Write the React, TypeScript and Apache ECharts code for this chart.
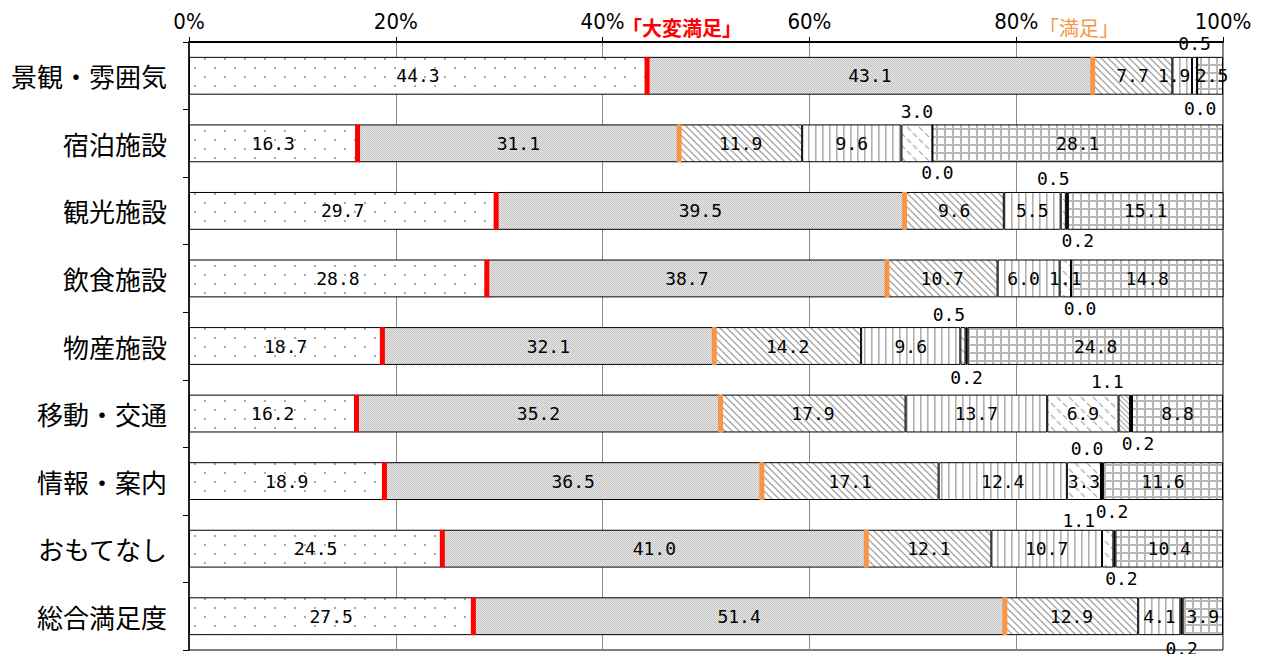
import React, { useEffect, useRef } from 'react';
import * as echarts from 'echarts';

const categories = ['景観・雰囲気', '宿泊施設', '観光施設', '飲食施設', '物産施設', '移動・交通', '情報・案内', 'おもてなし', '総合満足度'];
const seriesNames = ['大変満足', '満足', 'やや満足', 'ふつう', 'やや不満', '不満', '大変不満', '無回答'];

const s1 = [44.3, 16.3, 29.7, 28.8, 18.7, 16.2, 18.9, 24.5, 27.5];
const s2 = [43.1, 31.1, 39.5, 38.7, 32.1, 35.2, 36.5, 41.0, 51.4];
const s3 = [7.7, 11.9, 9.6, 10.7, 14.2, 17.9, 17.1, 12.1, 12.9];
const s4 = [1.9, 9.6, 5.5, 6.0, 9.6, 13.7, 12.4, 10.7, 4.1];
const s5 = [0.5, 3.0, 0.5, 1.1, 0.5, 6.9, 3.3, 1.1, null];
const s6 = [null, null, null, null, null, 1.1, 0.0, null, null];
const s7 = [0.0, 0.0, 0.2, 0.0, 0.2, 0.2, 0.2, 0.2, 0.2];
const s8 = [2.5, 28.1, 15.1, 14.8, 24.8, 8.8, 11.6, 10.4, 3.9];

const xTickStep = 20;

// label placement per cell (style config)
const allInside = categories.map(() => 'inside');
const s5Pos = ['top', 'top', 'top', 'inside', 'top', 'inside', 'inside', 'top', 'inside'];
const s6Pos = categories.map(() => 'top');
const s7Pos = categories.map(() => 'bottom');
// [row, series, dx, dy] label nudges (style config)
const labelNudges: [number, number, number, number][] = [
  [0, 3, -8, 0],
  [0, 7, 2, 0],
  [0, 6, 3, 0],
  [1, 6, 5, -3],
  [2, 4, -10, 0],
  [2, 6, 11, -2],
  [3, 3, -5, 0],
  [3, 6, 9, -2],
  [4, 4, -14, 0],
  [5, 5, -17, 0],
  [5, 6, 7, -2],
  [6, 5, -14, 0],
  [6, 6, 10, -2],
  [7, 4, -29, 4],
  [7, 6, 7, -2],
];

type Draw = (ctx: CanvasRenderingContext2D) => void;
function makePattern(w: number, h: number, draw: Draw, bg = '#ffffff') {
  const c = document.createElement('canvas');
  c.width = w;
  c.height = h;
  const ctx = c.getContext('2d') as CanvasRenderingContext2D;
  ctx.fillStyle = bg;
  ctx.fillRect(0, 0, w, h);
  draw(ctx);
  return { image: c.toDataURL(), repeat: 'repeat', imageWidth: w, imageHeight: h } as any;
}

function diag(ctx: CanvasRenderingContext2D, w: number, h: number, color: string, lw: number) {
  ctx.strokeStyle = color;
  ctx.lineWidth = lw;
  ctx.beginPath();
  ctx.moveTo(-1, -1); ctx.lineTo(w + 1, h + 1);
  ctx.moveTo(-1, h - 1); ctx.lineTo(1, h + 1);
  ctx.moveTo(w - 1, -1); ctx.lineTo(w + 1, 1);
  ctx.stroke();
}

export default function App() {
  const ref = useRef<HTMLDivElement>(null);
  useEffect(() => {
    if (!ref.current) return;
    const chart = echarts.init(ref.current, null, { renderer: 'svg' });

    const pDots = makePattern(20, 18, (ctx) => {
      ctx.fillStyle = '#a8a8a8';
      ctx.fillRect(4, 4, 2, 2);
      ctx.fillRect(14, 13, 2, 2);
    });
    const pGray = makePattern(4, 4, (ctx) => {
      ctx.fillStyle = '#c2c2c2';
      ctx.fillRect(0, 0, 1, 1); ctx.fillRect(2, 0, 1, 1);
      ctx.fillRect(1, 1, 1, 1); ctx.fillRect(3, 1, 1, 1);
      ctx.fillRect(0, 2, 1, 1); ctx.fillRect(2, 2, 1, 1);
      ctx.fillRect(1, 3, 1, 1); ctx.fillRect(3, 3, 1, 1);
    }, '#e8e8e8');
    const pHatch = makePattern(7, 7, (ctx) => diag(ctx, 7, 7, '#a4a4a4', 1.3));
    const pVert = makePattern(7, 4, (ctx) => {
      ctx.fillStyle = '#b0b0b0';
      ctx.fillRect(3, 0, 1.6, 4);
    });
    const pSparse = makePattern(12, 12, (ctx) => {
      ctx.strokeStyle = '#b4b4b4';
      ctx.lineWidth = 1.4;
      ctx.beginPath();
      ctx.moveTo(1, 1); ctx.lineTo(5, 5);
      ctx.moveTo(7, 7); ctx.lineTo(11, 11);
      ctx.stroke();
    });
    const pDiag2 = makePattern(5, 5, (ctx) => diag(ctx, 5, 5, '#a8a8a8', 1.2));
    const pGrid = makePattern(8, 8, (ctx) => {
      ctx.fillStyle = '#b8b8b8';
      ctx.fillRect(0, 0, 8, 2);
      ctx.fillRect(0, 0, 2, 8);
    });

    const values = [s1, s2, s3, s4, s5, s6, s7, s8];
    const fills: any[] = [pDots, pGray, pHatch, pVert, pSparse, pDiag2, '#000000', pGrid];
    const positions = [allInside, allInside, allInside, allInside, s5Pos, s6Pos, s7Pos, allInside];
    const nudge = (row: number, si: number) => {
      const n = labelNudges.find((x) => x[0] === row && x[1] === si);
      return n ? [n[2], n[3]] : [0, 0];
    };

    const barSeries = values.map((vals, si) => ({
      name: seriesNames[si],
      type: 'bar',
      stack: 'total',
      barWidth: '56%',
      itemStyle: { color: fills[si], borderColor: '#000', borderWidth: 1 },
      label: {
        show: true,
        color: '#000',
        fontSize: 18,
        fontFamily: "'DejaVu Sans Mono', monospace",
        distance: 4,
        formatter: (p: any) => Number(p.value).toFixed(1),
      },
      data: vals.map((v, i) =>
        v == null
          ? '-'
          : { value: v, label: { position: positions[si][i], offset: nudge(i, si) } }
      ),
    }));

    const markerSeries = (cum: number[], color: string) => ({
      type: 'custom',
      z: 10,
      silent: true,
      encode: { x: 0, y: 1 },
      data: cum.map((v, i) => [v, i]),
      renderItem: (params: any, api: any) => {
        const pt = api.coord([api.value(0), api.value(1)]);
        const band = api.size([0, 1])[1];
        const h = band * 0.56;
        return {
          type: 'rect',
          shape: { x: pt[0] - 2.5, y: pt[1] - h / 2, width: 5, height: h },
          style: { fill: color },
        };
      },
    });

    const cum1 = s1.slice();
    const cum2 = s1.map((v, i) => v + s2[i]);

    chart.setOption({
      animation: false,
      grid: {
        left: 189,
        right: 46,
        top: 42,
        bottom: 4,
        show: true,
        borderColor: '#000',
        borderWidth: 1,
        backgroundColor: 'transparent',
      },
      xAxis: {
        type: 'value',
        position: 'top',
        min: 0,
        max: 100,
        interval: xTickStep,
        axisLine: { show: true, lineStyle: { color: '#000', width: 2 } },
        axisTick: { show: true, length: 5, lineStyle: { color: '#000' } },
        axisLabel: {
          formatter: '{value}%',
          color: '#000',
          fontSize: 22,
          margin: 10,
          fontFamily: "'Liberation Sans Narrow', 'DejaVu Sans Condensed', 'Liberation Sans', sans-serif",
        },
        splitLine: { show: true, lineStyle: { color: '#8c8c8c', width: 1 } },
      },
      yAxis: {
        type: 'category',
        inverse: true,
        data: categories,
        axisLine: { show: true, lineStyle: { color: '#000', width: 1.5 } },
        axisTick: { show: true, length: 6, lineStyle: { color: '#000' } },
        axisLabel: {
          color: '#000',
          fontSize: 26,
          margin: 22,
          fontFamily: 'Noto Sans CJK JP, sans-serif',
        },
        splitLine: { show: false },
      },
      graphic: [
        {
          type: 'text',
          left: 622,
          top: 17,
          style: {
            text: '「大変満足」',
            fill: '#FF0000',
            fontSize: 20,
            fontWeight: 'bold',
            fontFamily: 'Noto Sans CJK JP, sans-serif',
          },
        },
        {
          type: 'text',
          left: 1039,
          top: 17,
          style: {
            text: '「満足」',
            fill: '#F79646',
            fontSize: 20,
            fontFamily: 'Noto Sans CJK JP, sans-serif',
          },
        },
      ],
      series: [...barSeries, markerSeries(cum1, '#FF0000'), markerSeries(cum2, '#F79646')],
    } as any);

    return () => chart.dispose();
  }, []);

  return (
    <div
      ref={ref}
      style={{ position: 'fixed', left: 0, top: 0, width: 1269, height: 654, background: '#fff' }}
    />
  );
}
